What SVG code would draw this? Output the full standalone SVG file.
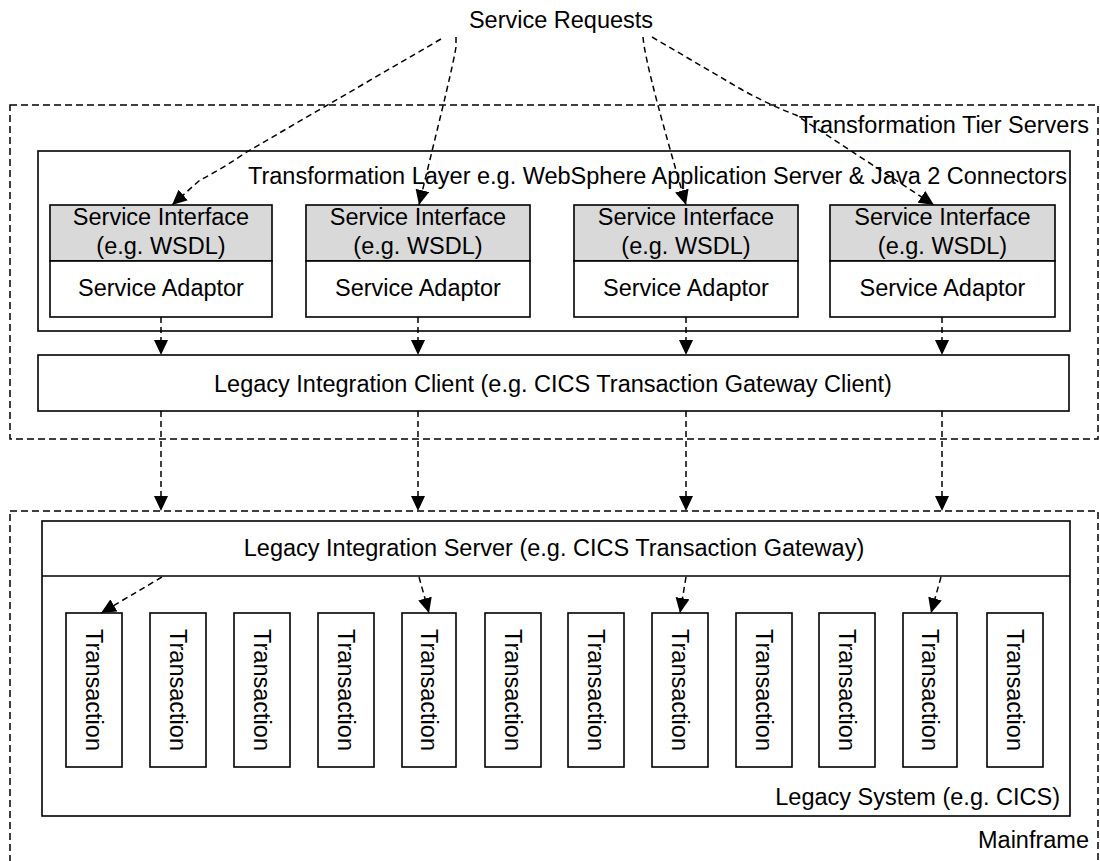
<svg xmlns="http://www.w3.org/2000/svg" width="1100" height="861" viewBox="0 0 1100 861">
  <style>
    text { font-family: "Liberation Sans", Arial, sans-serif; font-size: 23.5px; fill: #000; }
    .mid { text-anchor: middle; }
    .end { text-anchor: end; }
    .zone { fill: none; stroke: #000; stroke-width: 1.5; stroke-dasharray: 7 4; }
    .box { fill: #fff; stroke: #000; stroke-width: 1.6; }
    .line { fill: none; stroke: #000; stroke-width: 1.6; }
    .iface { fill: #d9d9d9; stroke: #000; stroke-width: 1.6; }
    .conn { fill: none; stroke: #000; stroke-width: 1.5; stroke-dasharray: 6 4; marker-end: url(#arrow); }
  </style>
  <defs>
    <marker id="arrow" viewBox="0 0 15 14" refX="15" refY="7" markerWidth="15" markerHeight="14" markerUnits="userSpaceOnUse" orient="auto">
      <path d="M0,0 L15,7 L0,14 z" fill="#000"/>
    </marker>
  </defs>

  <rect width="1100" height="861" fill="#fff"/>

  <!-- Transformation tier boundary -->
  <g id="transformation-tier">
    <rect class="zone" x="10" y="105" width="1088" height="334"/>
    <text class="end" x="1089" y="133">Transformation Tier Servers</text>
  </g>

  <g id="transformation-layer">
    <rect class="box" x="38" y="151" width="1032" height="180"/>
    <text class="end" x="1067" y="184">Transformation Layer e.g. WebSphere Application Server &amp; Java 2 Connectors</text>
  </g>

  <!-- Service interface / adaptor stacks -->
  <g id="service-1">
    <rect class="iface" x="50" y="205" width="222" height="56"/>
    <rect class="box" x="50" y="261" width="222" height="56"/>
    <text class="mid" x="161" y="225">Service Interface</text>
    <text class="mid" x="161" y="254">(e.g. WSDL)</text>
    <text class="mid" x="161" y="296">Service Adaptor</text>
  </g>
  <g id="service-2">
    <rect class="iface" x="306" y="205" width="224" height="56"/>
    <rect class="box" x="306" y="261" width="224" height="56"/>
    <text class="mid" x="418" y="225">Service Interface</text>
    <text class="mid" x="418" y="254">(e.g. WSDL)</text>
    <text class="mid" x="418" y="296">Service Adaptor</text>
  </g>
  <g id="service-3">
    <rect class="iface" x="574" y="205" width="224" height="56"/>
    <rect class="box" x="574" y="261" width="224" height="56"/>
    <text class="mid" x="686" y="225">Service Interface</text>
    <text class="mid" x="686" y="254">(e.g. WSDL)</text>
    <text class="mid" x="686" y="296">Service Adaptor</text>
  </g>
  <g id="service-4">
    <rect class="iface" x="830" y="205" width="225" height="56"/>
    <rect class="box" x="830" y="261" width="225" height="56"/>
    <text class="mid" x="942.5" y="225">Service Interface</text>
    <text class="mid" x="942.5" y="254">(e.g. WSDL)</text>
    <text class="mid" x="942.5" y="296">Service Adaptor</text>
  </g>

  <g id="integration-client">
    <rect class="box" x="38" y="355" width="1031" height="56"/>
    <text class="mid" x="553" y="392">Legacy Integration Client (e.g. CICS Transaction Gateway Client)</text>
  </g>

  <!-- Mainframe boundary (open at the bottom edge) -->
  <g id="mainframe">
    <rect class="zone" x="10" y="511" width="1088" height="380"/>
    <text class="end" x="1089" y="848">Mainframe</text>
  </g>

  <g id="legacy-system">
    <rect class="box" x="42" y="521" width="1028" height="295"/>
    <line class="line" x1="42" y1="576" x2="1070" y2="576"/>
    <text class="end" x="1060" y="805">Legacy System (e.g. CICS)</text>
  </g>

  <g id="integration-server">
    <text class="mid" x="554" y="556">Legacy Integration Server (e.g. CICS Transaction Gateway)</text>
  </g>

  <!-- Transaction programs, label reads top to bottom -->
  <g id="transactions">
    <g id="tx-1"><rect class="box" x="66" y="613" width="56" height="154"/><text class="mid" transform="translate(94,690) rotate(90)" y="8.4">Transaction</text></g>
    <g id="tx-2"><rect class="box" x="150" y="613" width="56" height="154"/><text class="mid" transform="translate(178,690) rotate(90)" y="8.4">Transaction</text></g>
    <g id="tx-3"><rect class="box" x="234" y="613" width="56" height="154"/><text class="mid" transform="translate(262,690) rotate(90)" y="8.4">Transaction</text></g>
    <g id="tx-4"><rect class="box" x="318" y="613" width="56" height="154"/><text class="mid" transform="translate(346,690) rotate(90)" y="8.4">Transaction</text></g>
    <g id="tx-5"><rect class="box" x="402" y="613" width="54" height="154"/><text class="mid" transform="translate(429,690) rotate(90)" y="8.4">Transaction</text></g>
    <g id="tx-6"><rect class="box" x="485" y="613" width="56" height="154"/><text class="mid" transform="translate(513,690) rotate(90)" y="8.4">Transaction</text></g>
    <g id="tx-7"><rect class="box" x="568" y="613" width="56" height="154"/><text class="mid" transform="translate(596,690) rotate(90)" y="8.4">Transaction</text></g>
    <g id="tx-8"><rect class="box" x="652" y="613" width="56" height="154"/><text class="mid" transform="translate(680,690) rotate(90)" y="8.4">Transaction</text></g>
    <g id="tx-9"><rect class="box" x="736" y="613" width="56" height="154"/><text class="mid" transform="translate(764,690) rotate(90)" y="8.4">Transaction</text></g>
    <g id="tx-10"><rect class="box" x="819" y="613" width="56" height="154"/><text class="mid" transform="translate(847,690) rotate(90)" y="8.4">Transaction</text></g>
    <g id="tx-11"><rect class="box" x="903" y="613" width="54" height="154"/><text class="mid" transform="translate(930,690) rotate(90)" y="8.4">Transaction</text></g>
    <g id="tx-12"><rect class="box" x="987" y="613" width="56" height="154"/><text class="mid" transform="translate(1015,690) rotate(90)" y="8.4">Transaction</text></g>
  </g>

  <g id="service-requests">
    <text class="mid" x="561" y="28">Service Requests</text>
  </g>

  <!-- Connectors -->
  <g id="connectors">
    <!-- incoming requests -->
    <path class="conn" d="M441,39 L245,153 Q222,169 200,180 L172,205"/>
    <path class="conn" d="M456,37 L456,47 C452,72 432,150 419,205"/>
    <path class="conn" d="M643,37 C645,62 665,132 686,205"/>
    <path class="conn" d="M652,37 L739,88 Q767,104 796,115 L934,205"/>
    <!-- adaptors to integration client -->
    <path class="conn" d="M161,317 L161,355"/>
    <path class="conn" d="M418,317 L418,355"/>
    <path class="conn" d="M686,317 L686,355"/>
    <path class="conn" d="M942,317 L942,355"/>
    <!-- client to mainframe -->
    <path class="conn" d="M161,411 L161,511"/>
    <path class="conn" d="M418,411 L418,511"/>
    <path class="conn" d="M686,411 L686,511"/>
    <path class="conn" d="M942,411 L942,511"/>
    <!-- integration server to transactions -->
    <path class="conn" d="M162,577 Q130,596 101,613"/>
    <path class="conn" d="M419,577 L429,613"/>
    <path class="conn" d="M686,577 L680,613"/>
    <path class="conn" d="M941,577 L931,613"/>
  </g>
</svg>
